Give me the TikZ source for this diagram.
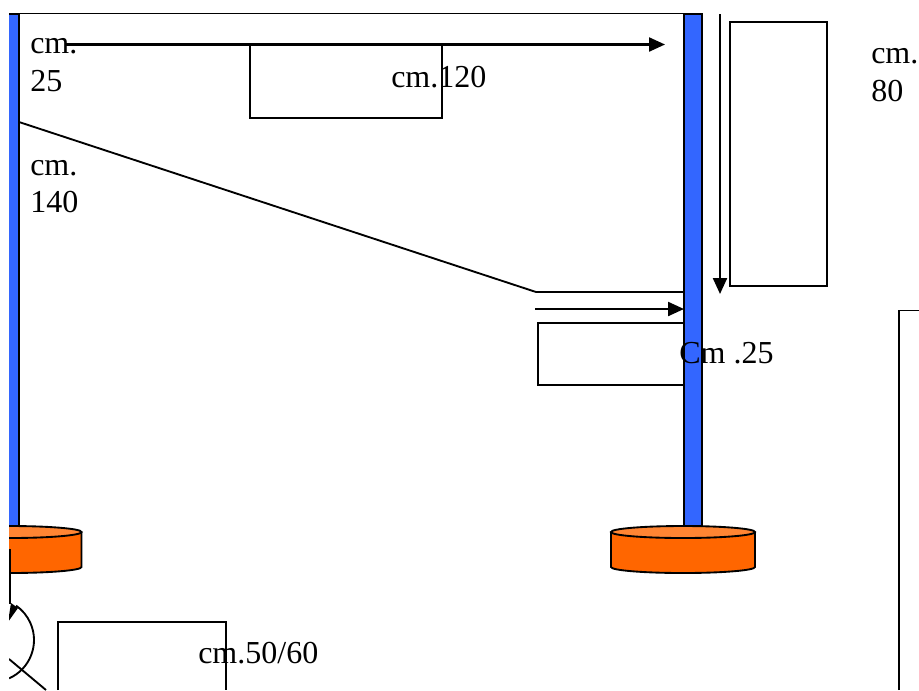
\documentclass[tikz,border=0pt]{standalone}
\usepackage{fontspec}
\setmainfont{Liberation Serif}
\usetikzlibrary{arrows.meta}
\definecolor{postblue}{HTML}{3366FF}
\definecolor{footorange}{HTML}{FF6600}
\definecolor{footlight}{HTML}{FF8533}
\tikzset{
  wire/.style={line width=1.4pt},
  measure/.style={line width=1.7pt,-{Triangle[length=12pt,width=10.5pt]}},
  post/.style={wire,fill=postblue},
  label/.style={inner sep=0pt,anchor=north west,align=left,
    font=\fontsize{24}{28.2}\selectfont}
}
\begin{document}
\begin{tikzpicture}[x=0.75pt,y=-0.75pt]
\useasboundingbox (0,0) rectangle (919,690);
\begin{scope}
\clip (9,0) rectangle (919,690);
% posts
\draw[post] (0,14) rectangle (19,526);
\draw[post] (684,14) rectangle (702,526);
\draw[wire] (0,13.5) -- (702,13.5);
% feet
\foreach \cx in {9.5,683}{
  \draw[wire,fill=footorange] (\cx-72,532) -- (\cx-72,567) arc (180:0:72 and 6) -- (\cx+72,532);
  \draw[wire,fill=footlight] (\cx,532) ellipse (72 and 6);
}
% door swing
\draw[line width=1.7pt] (9.7,549) -- (9.7,604);
\draw[wire] (-8,640) ++(66:42) arc (66:-55:42);
\fill (11,603) -- (18,608) -- (8,622) -- cycle;
\draw[wire] (9,659) -- (46,690);
\end{scope}
% shelves
\draw[wire] (250,45.5) rectangle (442,118);
\draw[wire] (538,323) rectangle (684,385);
\draw[wire] (730,22) rectangle (827,286);
\draw[wire] (58,690) -- (58,622) -- (226,622) -- (226,690);
\draw[wire] (899,690) -- (899,310.5) -- (919,310.5);
% brace line
\draw[wire] (19,122) -- (536,292) -- (684,292);
% arrows
\draw[measure] (65,44.5) -- (665,44.5);
\draw[measure] (535,309) -- (684,309);
\draw[measure] (720,14) -- (720,294);
% labels
\node[label] (lab25) at (30,38.5) {cm.\\25};
\node[label] (lab140) at (30,160) {cm.\\140};
\node[label] (lab120) at (391,66) {cm.120};
\node[label] (lab80) at (871,48.5) {cm.\\80};
\node[label] (labshelf) at (679,342) {Cm .25};
\node[label] (lab5060) at (198,642) {cm.50/60};
\end{tikzpicture}
\end{document}
